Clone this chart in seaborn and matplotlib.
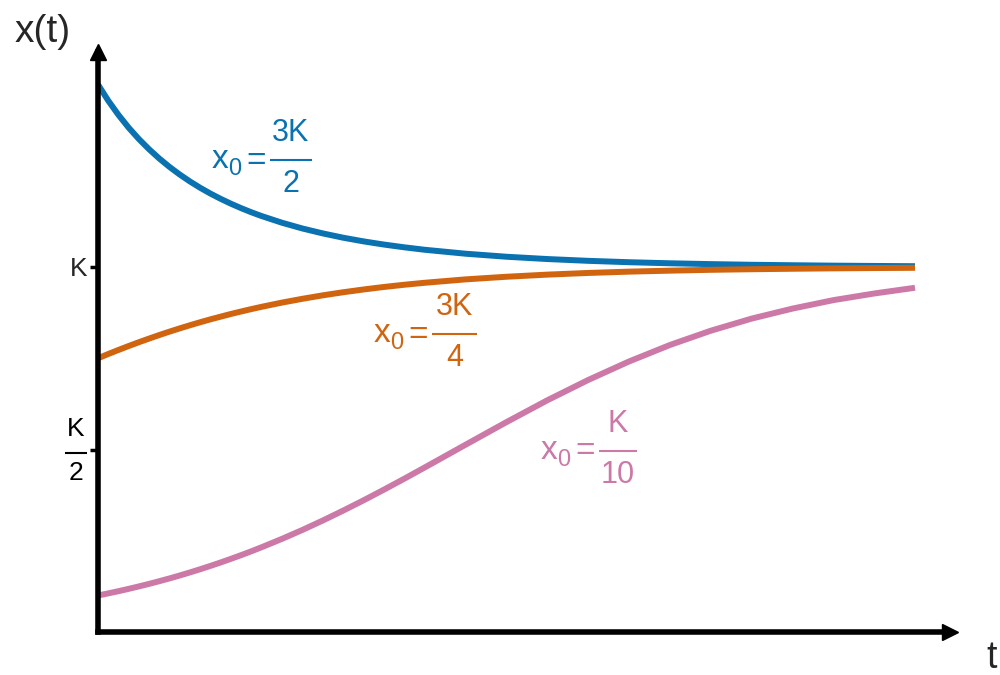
import numpy as np
import pandas as pd
import seaborn as sns
import matplotlib
matplotlib.use("Agg")
import matplotlib.pyplot as plt
from matplotlib.transforms import ScaledTranslation

# Time grid (finer near t = 0 where the curves bend fastest)
t_values = [0, 0.125, 0.25, 0.375, 0.5, 0.625, 0.75, 0.875, 1, 1.125, 1.25,
            1.375, 1.5, 1.625, 1.75, 1.875, 2, 2.25, 2.5, 2.75, 3, 3.25, 3.5,
            3.75, 4, 4.5, 5, 5.5, 6, 6.5, 7, 7.5, 8, 8.5, 9, 9.5, 10]

# Population x(t) in units of the carrying capacity K
x_high = [1.5, 1.4558, 1.4168, 1.3818, 1.3506, 1.3226, 1.2972, 1.2742, 1.2534,
          1.2344, 1.2171, 1.2013, 1.1869, 1.1736, 1.1614, 1.1501, 1.1398,
          1.1214, 1.1056, 1.0921, 1.0803, 1.0702, 1.0615, 1.0539, 1.0472,
          1.0364, 1.0281, 1.0218, 1.0169, 1.0131, 1.0102, 1.0079, 1.0061,
          1.0048, 1.0037, 1.0029, 1.0022]
x_mid = [0.75, 0.7616, 0.7727, 0.7835, 0.7939, 0.8039, 0.8136, 0.8229, 0.8318,
         0.8404, 0.8486, 0.8565, 0.8639, 0.8712, 0.8780, 0.8846, 0.8908,
         0.9024, 0.9128, 0.9223, 0.9308, 0.9384, 0.9453, 0.9514, 0.9568,
         0.9661, 0.9733, 0.9791, 0.9837, 0.9873, 0.9900, 0.9923, 0.9939,
         0.9952, 0.9963, 0.9971, 0.9978]
x_low = [0.1, 0.1058, 0.1118, 0.1182, 0.1249, 0.1318, 0.1392, 0.1468, 0.1548,
         0.1632, 0.1719, 0.1810, 0.1904, 0.2003, 0.2104, 0.2210, 0.2320,
         0.2550, 0.2794, 0.3053, 0.3325, 0.3607, 0.3900, 0.4201, 0.4509,
         0.5132, 0.5751, 0.6349, 0.6905, 0.7412, 0.7863, 0.8254, 0.8586,
         0.8860, 0.9092, 0.9274, 0.9431]

series_names = ["3K/2", "3K/4", "K/10"]
series_colors = ["#0a72b0", "#d0640f", "#cc79a7"]
label_num = ["3K", "3K", "K"]
label_den = ["2", "4", "10"]
# centre of each fraction bar (t, x) and its half width in pixels
label_anchor = [(2.362, 1.293), (4.364, 0.816), (6.365, 0.496)]
label_halfwidth = [21, 22.5, 19]

ytick_values = [0.5, 1.0]
ytick_labels = ["K/2", "K"]

df = pd.concat([
    pd.DataFrame({"t": t_values, "x": vals, "series": name})
    for name, vals in zip(series_names, [x_high, x_mid, x_low])
])

sns.set_theme(style="white")
FONT = ["Liberation Sans", "DejaVu Sans"]
plt.rcParams["font.family"] = FONT

fig = plt.figure(figsize=(10, 6.75), dpi=100)
ax = fig.add_axes([0.098, 43 / 675, 0.852, 580 / 675])

sns.lineplot(data=df, x="t", y="x", hue="series", hue_order=series_names,
             palette=series_colors, linewidth=4.3, legend=False, ax=ax,
             solid_capstyle="butt", solid_joinstyle="round")

ax.set_xlim(0, 852 / 81.7)
ax.set_ylim(0, 580 / 365)
ax.set_xlabel("")
ax.set_ylabel("")

for side in ["top", "right"]:
    ax.spines[side].set_visible(False)
for side in ["left", "bottom"]:
    ax.spines[side].set_linewidth(4)
    ax.spines[side].set_color("black")
    ax.spines[side].set_capstyle("projecting")

# arrow heads at the ends of both axes
ax.plot([1], [0], marker=">", ms=11, color="black", transform=ax.transAxes,
        clip_on=False)
ax.plot([0], [1], marker="^", ms=11, color="black", transform=ax.transAxes,
        clip_on=False)

ax.set_xticks([])
ax.set_yticks(ytick_values, labels=["" if "/" in s else s for s in ytick_labels])
ax.tick_params(axis="y", length=6, width=2.5, color="black", pad=1.5,
               labelsize=19, left=True)
for lab in ax.get_yticklabels():
    lab.set_family(FONT)
    lab.set_fontsize(19)

PX = 1 / fig.dpi


def fraction(anchor_trans, num, den, color, hw, size, num_dy, den_dy):
    """Stacked fraction centred on the anchor; offsets are in pixels."""
    ax.text(0, num_dy * PX, num, transform=anchor_trans, ha="center",
            va="center", color=color, fontsize=size, family=FONT)
    ax.text(0, den_dy * PX, den, transform=anchor_trans, ha="center",
            va="center", color=color, fontsize=size, family=FONT)
    ax.plot([-hw * PX, hw * PX], [0, 0], transform=anchor_trans, color=color,
            lw=1.5, solid_capstyle="butt", clip_on=False)


for (tx, xv), num, den, col, hw in zip(label_anchor, label_num, label_den,
                                       series_colors, label_halfwidth):
    tr = fig.dpi_scale_trans + ScaledTranslation(tx, xv, ax.transData)
    fraction(tr, num, den, col, hw, 22, 27, -24)
    ax.text((-hw - 14) * PX, -1 * PX, "=", transform=tr, ha="center",
            va="center", color=col, fontsize=24, family=FONT)
    ax.text((-hw - 50) * PX, -8 * PX, "x", transform=tr, ha="center",
            va="baseline", color=col, fontsize=24, family=FONT)
    ax.text((-hw - 35) * PX, -15 * PX, "0", transform=tr, ha="center",
            va="baseline", color=col, fontsize=17, family=FONT)

# fractional tick label K/2
for val, lab in zip(ytick_values, ytick_labels):
    if "/" in lab:
        n, d = lab.split("/")
        tr = fig.dpi_scale_trans + ScaledTranslation(0, val, ax.get_yaxis_transform())
        tr = tr + ScaledTranslation(-22 * PX, -3 * PX, fig.dpi_scale_trans)
        fraction(tr, n, d, "black", 11, 19, 23, -21)

fig.text(42.5 / 1000, 1 - 31.5 / 675, "x(t)", ha="center", va="center",
         fontsize=28, family=FONT)
fig.text(992 / 1000, 1 - 658 / 675, "t", ha="center", va="center",
         fontsize=27, family=FONT)

fig.savefig("out.png", dpi=100)
